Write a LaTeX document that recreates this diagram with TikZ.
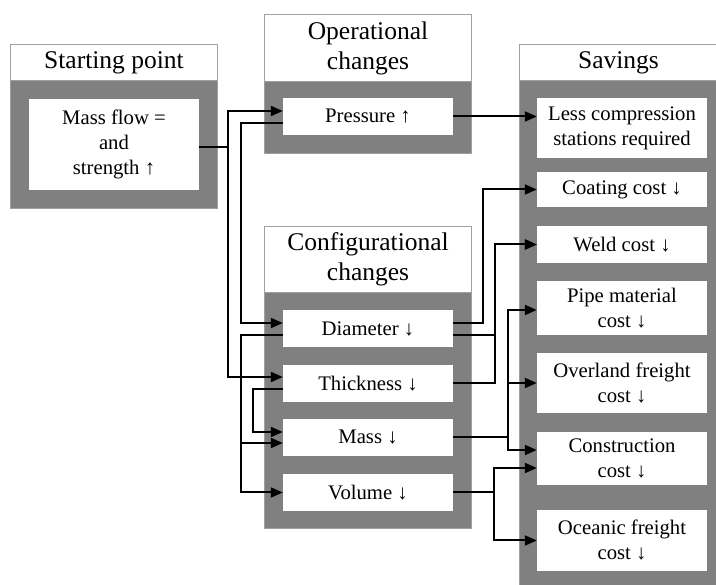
\documentclass[tikz,border=0pt]{standalone}
\usepackage{fontspec}
\setmainfont{LiberationSerif}[Extension=.ttf,UprightFont=*-Regular,BoldFont=*-Bold]
\usetikzlibrary{arrows.meta,calc}
\definecolor{boxgray}{HTML}{808080}
\definecolor{edgegray}{HTML}{A0A0A0}
\tikzset{
  container/.style={draw=edgegray,line width=1pt,fill=boxgray,anchor=north west,inner sep=0pt},
  titlebox/.style={draw=edgegray,line width=1pt,fill=white,anchor=north west,inner sep=0pt,
    align=center,font=\fontsize{25.5pt}{30pt}\selectfont},
  item/.style={fill=white,inner sep=0pt,minimum width=170pt,align=center,
    font=\fontsize{20.7pt}{25pt}\selectfont},
  conn/.style={line width=2pt},
  arr/.style={conn,-{Triangle[length=12pt,width=10pt]}}
}
\begin{document}
\begin{tikzpicture}[x=1pt,y=-1pt]
\useasboundingbox (0,0) rectangle (716,585);
% containers
\node[container,minimum width=207pt,minimum height=164pt] (startbox) at (10,44) {};
\node[titlebox,minimum width=207pt,minimum height=36pt] (starttitle) at (10,44) {Starting point};
\node[container,minimum width=207pt,minimum height=139pt] (opbox) at (264,14) {};
\node[titlebox,minimum width=207pt,minimum height=67pt] (optitle) at (264,14) {Operational\\changes};
\node[container,minimum width=207pt,minimum height=302pt] (cfgbox) at (264,226) {};
\node[titlebox,minimum width=207pt,minimum height=66pt] (cfgtitle) at (264,226) {Configurational\\changes};
\node[container,minimum width=198pt,minimum height=542pt] (savbox) at (519,44) {};
\node[titlebox,minimum width=198pt,minimum height=36pt] (savtitle) at (519,44) {Savings};
% items
\node[item,minimum height=91pt] (mf) at (114,144.5) {Mass flow =\\and\\strength ↑};
\node[item,minimum height=37pt] (press) at (368,116.5) {Pressure ↑};
\node[item,minimum height=37pt] (diam) at (368,328.5) {Diameter ↓};
\node[item,minimum height=37pt] (thick) at (368,383.5) {Thickness ↓};
\node[item,minimum height=37pt] (mass) at (368,437.5) {Mass ↓};
\node[item,minimum height=37pt] (vol) at (368,492.5) {Volume ↓};
\node[item,minimum height=60pt] (less) at (622,128) {Less compression\\stations required};
\node[item,minimum height=35pt] (coat) at (622,189.5) {Coating cost ↓};
\node[item,minimum height=37pt] (weld) at (622,244.5) {Weld cost ↓};
\node[item,minimum height=54pt] (pipe) at (622,308) {Pipe material\\cost ↓};
\node[item,minimum height=60pt] (over) at (622,383) {Overland freight\\cost ↓};
\node[item,minimum height=53pt] (cons) at (622,458.5) {Construction\\cost ↓};
\node[item,minimum height=61pt] (ocean) at (622,540.5) {Oceanic freight\\cost ↓};
% connectors
\draw[arr] ([yshift=-2.5pt]mf.east) -- ++(29,0) |- ([yshift=5.5pt]press.west);
\draw[arr] ([yshift=-2.5pt]mf.east) -- ++(29,0) |- ([yshift=6.5pt]thick.west);
\draw[arr] ([yshift=-6.5pt]press.west) -- ++(-42,0) |- ([yshift=5.5pt]diam.west);
\draw[arr] ([yshift=-6.5pt]diam.west) -- ++(-42,0) |- ([yshift=-5.5pt]mass.west);
\draw[arr] ([yshift=-6.5pt]diam.west) -- ++(-42,0) |- (vol.west);
\draw[arr] ([yshift=-5.5pt]thick.west) -- ++(-30,0) |- ([yshift=5.5pt]mass.west);
\draw[arr] (press.east) -- (press.east-|less.west);
\draw[arr] ([yshift=5.5pt]diam.east) -- ++(30,0) |- (coat.west);
\draw[arr] ([yshift=-6.5pt]diam.east) -- ++(42,0) |- (weld.west);
\draw[arr] (thick.east) -- ++(42,0) |- (weld.west);
\draw[arr] (mass.east) -- ++(55,0) |- ([yshift=-2pt]pipe.west);
\draw[arr] (mass.east) -- ++(55,0) |- (over.west);
\draw[arr] (mass.east) -- ++(55,0) |- ([yshift=8.5pt]cons.west);
\draw[arr] (vol.east) -- ++(41,0) |- ([yshift=-9.5pt]cons.west);
\draw[arr] (vol.east) -- ++(41,0) |- (ocean.west);
\end{tikzpicture}
\end{document}
